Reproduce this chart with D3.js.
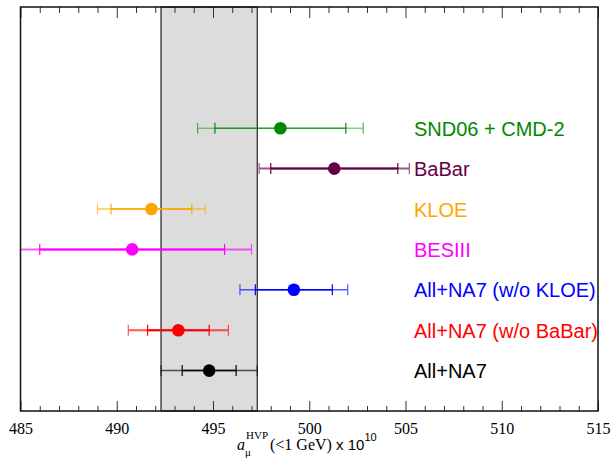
<!DOCTYPE html>
<html>
<head>
<meta charset="utf-8">
<script src="https://cdn.jsdelivr.net/npm/d3@7"></script>
<style>
  body { margin: 0; background: #fff; }
  svg { display: block; }
  .lbl { font-family: "Liberation Sans", Arial, sans-serif; font-size: 20px; }
  .tickLbl { font-family: "Liberation Serif", "Times New Roman", serif; font-size: 16px; }
</style>
</head>
<body>
<div id="chart"></div>
<script>
// data (top row first)
var labels = ["SND06 + CMD-2", "BaBar", "KLOE", "BESIII", "All+NA7 (w/o KLOE)", "All+NA7 (w/o BaBar)", "All+NA7"];
var centers = [498.5, 501.3, 491.8, 490.8, 499.2, 493.2, 494.8];
var innerErr = [3.4, 3.3, 2.1, 4.8, 2.0, 1.6, 1.4];
var outerErr = [4.3, 3.9, 2.8, 6.2, 2.8, 2.6, 2.5];
var xTicks = [485, 490, 495, 500, 505, 510, 515];

// style per row
var colors = ["#008800", "#660044", "#ffa500", "#ff00ff", "#0000ff", "#ff0000", "#000000"];
var widths = [1, 2, 1.5, 2, 1.5, 2, 1.5];

var W = 613, H = 461;
// plot box edges (note: "top" is reserved on window, so use p* names)
var pLeft = 20.5, pRight = 598, pTop = 7, pBottom = 411;

var svg = d3.select("#chart").append("svg")
  .attr("width", W)
  .attr("height", H);

var x = d3.scaleLinear().domain([485, 515]).range([pLeft, pRight]);
var y = d3.scaleLinear().domain([0, 10]).range([pBottom, pTop]);

// row positions: 7 at the top down to 1
var rowY = labels.map(function (d, i) { return labels.length - i; });

svg.append("defs").append("clipPath").attr("id", "plotClip")
  .append("rect")
  .attr("x", pLeft).attr("y", pTop)
  .attr("width", pRight - pLeft).attr("height", pBottom - pTop);

// band = combined result (last row) total error
var last = labels.length - 1;
svg.append("rect")
  .attr("x", x(centers[last] - outerErr[last]))
  .attr("y", pTop)
  .attr("width", x(centers[last] + outerErr[last]) - x(centers[last] - outerErr[last]))
  .attr("height", pBottom - pTop)
  .attr("fill", "#dcdcdc")
  .attr("stroke", "#222")
  .attr("stroke-width", 1.2);

// axes: major every 5, minor every 1, ticks pointing inwards on top and bottom
var minor = d3.range(485, 516, 1).filter(function (v) { return v % 5 !== 0; });

var bottomAxis = d3.axisBottom(x).tickValues(xTicks).tickSize(-10).tickPadding(12).tickFormat(d3.format("d"));
var gB = svg.append("g").attr("transform", "translate(0," + pBottom + ")").call(bottomAxis);
gB.select(".domain").remove();
gB.selectAll("text").attr("class", "tickLbl").attr("font-size", null).attr("font-family", null).attr("fill", "#000");
gB.selectAll("line").attr("stroke", "#333");

var gBm = svg.append("g").attr("transform", "translate(0," + pBottom + ")")
  .call(d3.axisBottom(x).tickValues(minor).tickSize(-5).tickFormat(""));
gBm.select(".domain").remove();
gBm.selectAll("line").attr("stroke", "#333");

var gT = svg.append("g").attr("transform", "translate(0," + pTop + ")")
  .call(d3.axisTop(x).tickValues(xTicks).tickSize(-11).tickFormat(""));
gT.select(".domain").remove();
gT.selectAll("line").attr("stroke", "#333");

var gTm = svg.append("g").attr("transform", "translate(0," + pTop + ")")
  .call(d3.axisTop(x).tickValues(minor).tickSize(-6).tickFormat(""));
gTm.select(".domain").remove();
gTm.selectAll("line").attr("stroke", "#333");

// error bars
var rows = svg.append("g").attr("clip-path", "url(#plotClip)")
  .selectAll("g.row")
  .data(labels)
  .enter()
  .append("g")
  .attr("class", "row");

var cap = 5.5;

rows.each(function (d, i) {
  var g = d3.select(this);
  var yy = y(rowY[i]);
  var c = colors[i], w = widths[i];
  var lo = x(centers[i] - outerErr[i]), hi = x(centers[i] + outerErr[i]);
  var li = x(centers[i] - innerErr[i]), ri = x(centers[i] + innerErr[i]);

  // total error (lighter)
  var outer = g.append("g").attr("stroke", c).attr("stroke-width", w).attr("opacity", 0.65);
  outer.append("line").attr("x1", lo).attr("x2", hi).attr("y1", yy).attr("y2", yy);
  [lo, hi].forEach(function (px) {
    outer.append("line").attr("x1", px).attr("x2", px).attr("y1", yy - cap).attr("y2", yy + cap).attr("stroke-width", 1.2);
  });

  // inner error
  var inner = g.append("g").attr("stroke", c).attr("stroke-width", w);
  inner.append("line").attr("x1", li).attr("x2", ri).attr("y1", yy).attr("y2", yy);
  [li, ri].forEach(function (px) {
    inner.append("line").attr("x1", px).attr("x2", px).attr("y1", yy - cap).attr("y2", yy + cap).attr("stroke-width", 1.2);
  });

  g.append("circle")
    .attr("cx", x(centers[i]))
    .attr("cy", yy)
    .attr("r", 6.3)
    .attr("fill", c);
});

// labels
svg.selectAll("text.lbl")
  .data(labels)
  .enter()
  .append("text")
  .attr("class", "lbl")
  .attr("x", 414)
  .attr("y", function (d, i) { return y(rowY[i]) + 7.5; })
  .attr("fill", function (d, i) { return colors[i]; })
  .text(function (d) { return d; });

// frame
svg.append("rect")
  .attr("x", pLeft).attr("y", pTop)
  .attr("width", pRight - pLeft).attr("height", pBottom - pTop)
  .attr("fill", "none")
  .attr("stroke", "#111")
  .attr("stroke-width", 1.5);

// axis title: a_mu^HVP(<1 GeV) x 10^10
var serif = "'Liberation Serif', 'Times New Roman', serif";
var tY = 450;
svg.append("text").attr("x", 237).attr("y", tY)
  .attr("font-family", serif).attr("font-size", 16).attr("font-style", "italic")
  .text("a");
svg.append("text").attr("x", 245).attr("y", tY + 6)
  .attr("font-family", serif).attr("font-size", 11)
  .text("\u03bc");
svg.append("text").attr("x", 246).attr("y", tY - 11)
  .attr("font-family", serif).attr("font-size", 11)
  .text("HVP");
var t = svg.append("text").attr("x", 270).attr("y", tY)
  .attr("font-family", serif).attr("font-size", 16);
t.append("tspan").text("(<1 GeV)");
t.append("tspan").attr("font-family", "'Liberation Sans', Arial, sans-serif").attr("font-size", 15).text(" x 10");
t.append("tspan").attr("dy", -9).attr("font-family", "'Liberation Sans', Arial, sans-serif").attr("font-size", 11).text("10");
</script>
</body>
</html>
